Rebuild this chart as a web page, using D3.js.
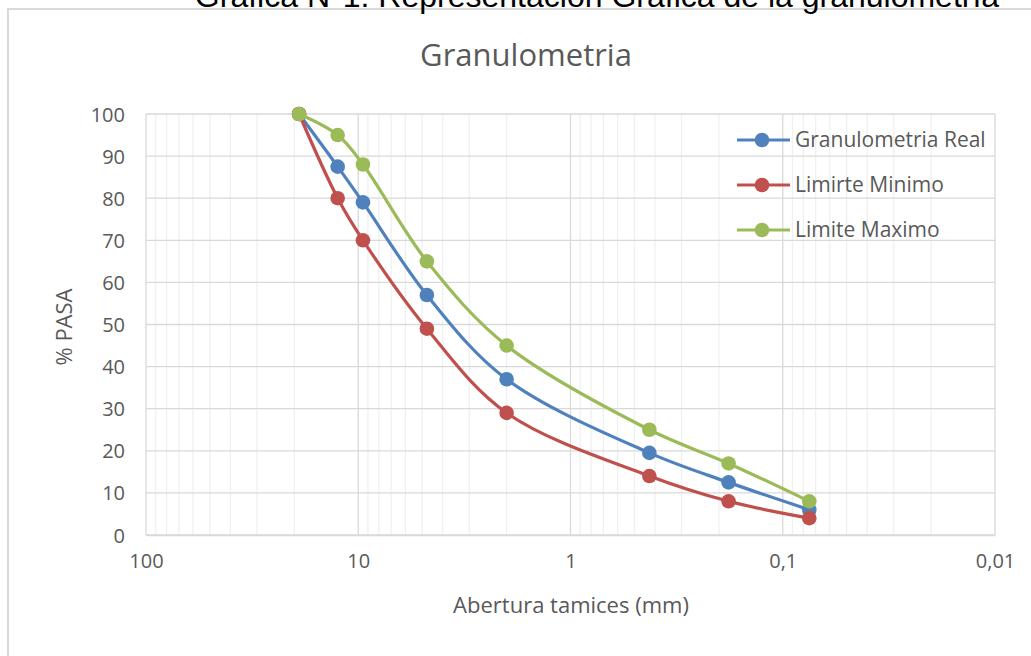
<!DOCTYPE html>
<html lang="es">
<head>
<meta charset="UTF-8">
<title>Granulometria</title>
<script src="https://cdn.jsdelivr.net/npm/d3@7"></script>
<style>
    body { margin: 0; background: #fff; }
    svg { display: block; }
    text { font-family: "Open Sans", Calibri, sans-serif; fill: #595959; }
</style>
</head>
<body>
<script>
    // sieve openings (mm) and % passing
    const aberturas = [19, 12.5, 9.5, 4.75, 2.0, 0.425, 0.18, 0.075];
    const granReal = [100, 87.5, 79, 57, 37, 19.5, 12.5, 6];
    const limMinimo = [100, 80, 70, 49, 29, 14, 8, 4];
    const limMaximo = [100, 95, 88, 65, 45, 25, 17, 8];
    const seriesNames = ["Granulometria Real", "Limirte Minimo", "Limite Maximo"];
    const seriesColors = ["#4F81BD", "#C0504D", "#9BBB59"];
    const xTicks = [100, 10, 1, 0.1, 0.01];
    const xTickLabels = ["100", "10", "1", "0,1", "0,01"];
    const yTicks = [0, 10, 20, 30, 40, 50, 60, 70, 80, 90, 100];

    const W = 1031, H = 656;
    const plot = { left: 146, right: 995, top: 114, bottom: 535 };
    const font = "'Open Sans', Calibri, sans-serif";

    const svg = d3.select("body").append("svg")
        .attr("width", W).attr("height", H);

    // chart frame (right and bottom run past the picture)
    svg.append("rect")
        .attr("x", 8).attr("y", 9)
        .attr("width", W + 10).attr("height", H + 10)
        .attr("fill", "#fff").attr("stroke", "#d9d9d9").attr("stroke-width", 2);

    // document caption, clipped at the top of the picture
    svg.append("text")
        .attr("x", 597).attr("y", 7)
        .attr("text-anchor", "middle")
        .style("font-family", "Arial, 'Liberation Sans', sans-serif")
        .style("font-size", "32px").style("fill", "#000")
        .text("Gráfica N°1: Representación Gráfica de la granulometría");

    svg.append("text")
        .attr("x", 526).attr("y", 66)
        .attr("text-anchor", "middle")
        .style("font-size", "31px")
        .text("Granulometria");

    const x = d3.scaleLog().domain([100, 0.01]).range([plot.left, plot.right]);
    const y = d3.scaleLinear().domain([0, 100]).range([plot.bottom, plot.top]);

    // minor grid lines (2..9 in each decade)
    const minor = [];
    [10, 1, 0.1, 0.01].forEach(base => {
        for (let k = 2; k <= 9; k++) minor.push(base * k);
    });
    svg.append("g").selectAll("line").data(minor).join("line")
        .attr("x1", d => x(d)).attr("x2", d => x(d))
        .attr("y1", plot.top).attr("y2", plot.bottom)
        .attr("stroke", "#f0f0f0").attr("stroke-width", 1.3);

    svg.append("g").selectAll("line").data(yTicks).join("line")
        .attr("x1", plot.left).attr("x2", plot.right)
        .attr("y1", d => y(d)).attr("y2", d => y(d))
        .attr("stroke", "#d9d9d9").attr("stroke-width", 1.3);

    svg.append("g").selectAll("line").data(xTicks).join("line")
        .attr("x1", d => x(d)).attr("x2", d => x(d))
        .attr("y1", plot.top).attr("y2", plot.bottom)
        .attr("stroke", "#d9d9d9").attr("stroke-width", 1.3);

    // axes
    const yAxis = d3.axisLeft(y).tickValues(yTicks).tickSize(0).tickPadding(21);
    const gy = svg.append("g").attr("transform", `translate(${plot.left},0)`).call(yAxis);
    gy.select(".domain").remove();
    gy.selectAll("text").style("font-size", "20px").attr("dy", "0.35em")
        .style("font-family", font).attr("fill", "#595959");

    const xAxis = d3.axisBottom(x).tickValues(xTicks)
        .tickFormat((d, i) => xTickLabels[i]).tickSize(0).tickPadding(19);
    const gx = svg.append("g").attr("transform", `translate(0,${plot.bottom})`).call(xAxis);
    gx.select(".domain").attr("stroke", "#d9d9d9").attr("stroke-width", 1.5);
    gx.selectAll("text").style("font-size", "20px")
        .style("font-family", font).attr("fill", "#595959");

    svg.append("text")
        .attr("x", 571).attr("y", 613)
        .attr("text-anchor", "middle")
        .style("font-size", "22px")
        .text("Abertura tamices (mm)");

    svg.append("text")
        .attr("transform", "translate(72,327) rotate(-90)")
        .attr("text-anchor", "middle")
        .style("font-size", "22px")
        .text("% PASA");

    // series
    const allSeries = [granReal, limMinimo, limMaximo];
    const line = d3.line()
        .x(d => x(d[0])).y(d => y(d[1]))
        .curve(d3.curveCatmullRom.alpha(0.5));

    allSeries.forEach((vals, i) => {
        const pts = aberturas.map((a, j) => [a, vals[j]]);
        const g = svg.append("g");
        g.append("path").datum(pts)
            .attr("d", line)
            .attr("fill", "none")
            .attr("stroke", seriesColors[i])
            .attr("stroke-width", 3.2);
        g.selectAll("circle").data(pts).join("circle")
            .attr("cx", d => x(d[0])).attr("cy", d => y(d[1]))
            .attr("r", 7.3)
            .attr("fill", seriesColors[i]);
    });

    // legend
    const legend = svg.append("g");
    seriesNames.forEach((name, i) => {
        const ly = 140 + i * 45;
        legend.append("line")
            .attr("x1", 737).attr("x2", 790)
            .attr("y1", ly).attr("y2", ly)
            .attr("stroke", seriesColors[i]).attr("stroke-width", 3.2);
        legend.append("circle")
            .attr("cx", 762).attr("cy", ly).attr("r", 7.3)
            .attr("fill", seriesColors[i]);
        legend.append("text")
            .attr("x", 795).attr("y", ly)
            .attr("dy", "0.35em")
            .style("font-size", "21px")
            .text(name);
    });
</script>
</body>
</html>
